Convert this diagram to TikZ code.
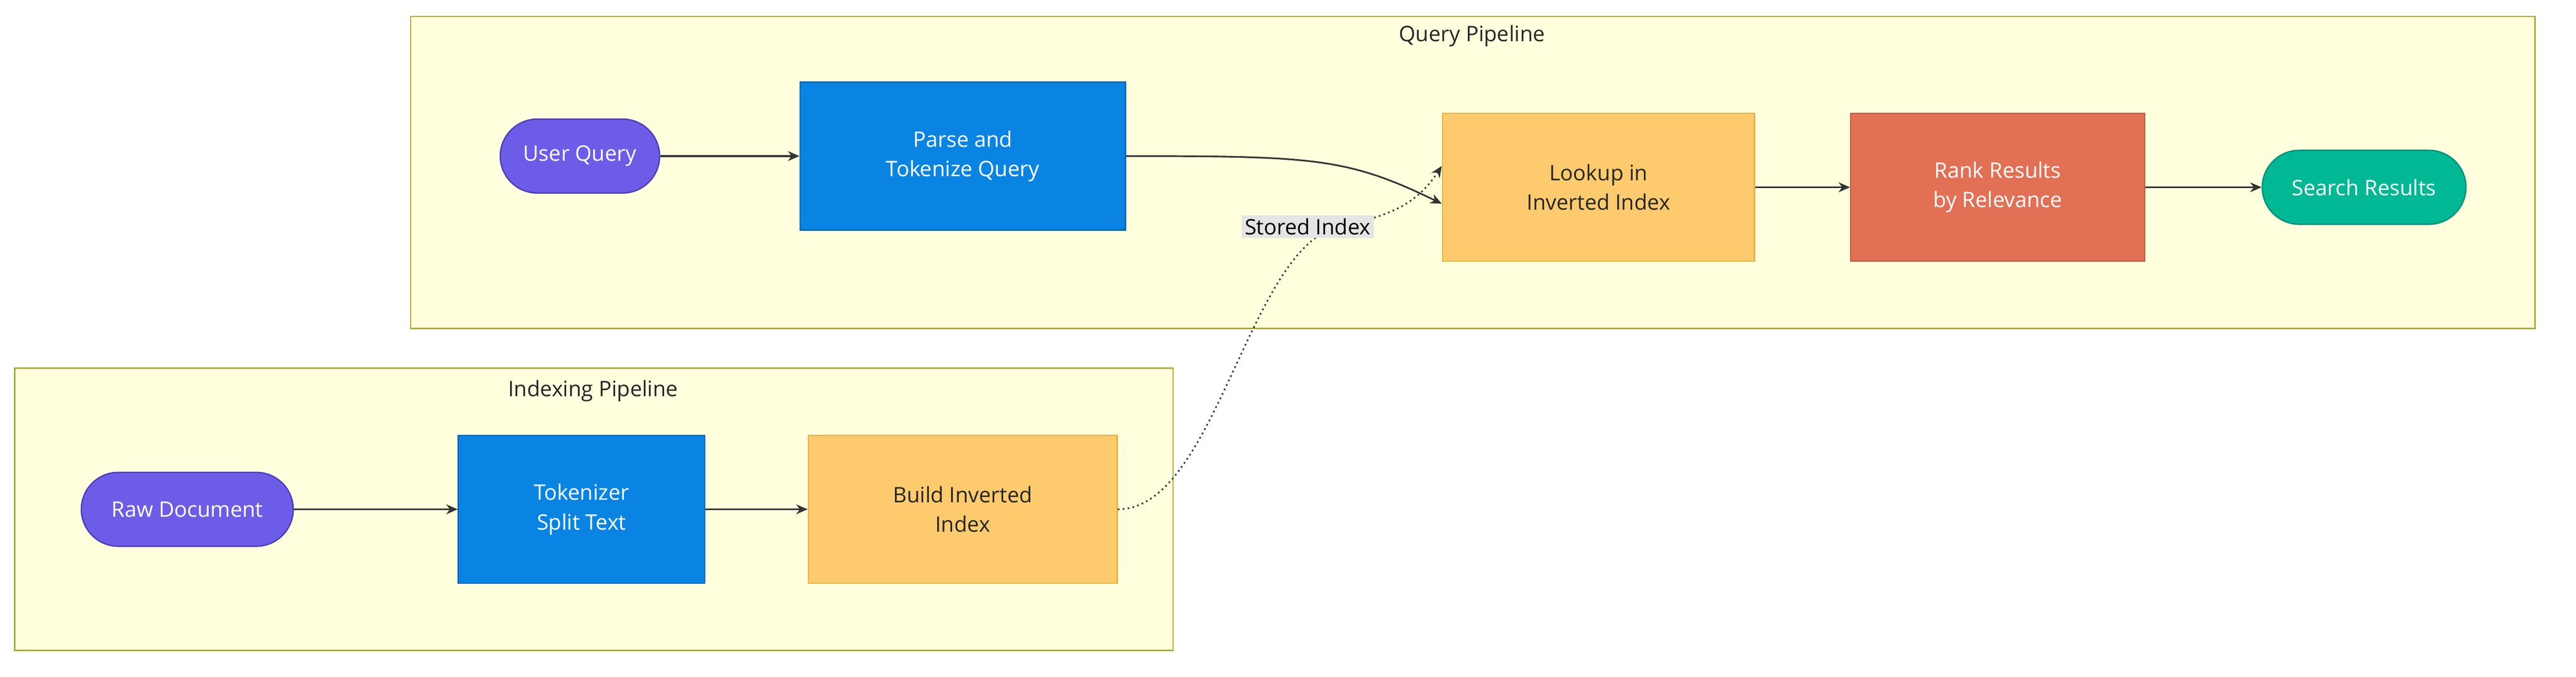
\documentclass[tikz,border=0pt]{standalone}
\usepackage{fontspec}
\setmainfont{Open Sans}
\usetikzlibrary{arrows.meta,shapes.misc}
\definecolor{grp}{HTML}{FFFFDE}
\definecolor{grpb}{HTML}{AAAA33}
\definecolor{purp}{HTML}{6C5CE7}
\definecolor{purpb}{HTML}{4B3BB8}
\definecolor{blu}{HTML}{0984E3}
\definecolor{blub}{HTML}{0768B5}
\definecolor{org}{HTML}{FDCB6E}
\definecolor{orgb}{HTML}{E8B040}
\definecolor{rd}{HTML}{E17055}
\definecolor{rdb}{HTML}{C0553C}
\definecolor{grn}{HTML}{00B894}
\definecolor{grnb}{HTML}{00907A}
\begin{document}
\begin{tikzpicture}[x=1pt,y=-1pt,
  every node/.style={font=\fontsize{13}{18}\selectfont},
  grpbox/.style={draw=grpb,fill=grp,line width=0.8pt},
  title/.style={text=black!85},
  pill/.style={rounded rectangle,draw=purpb,fill=purp,text=white,line width=0.8pt,minimum height=45pt,inner xsep=12pt},
  box/.style={draw,line width=0.8pt,align=center,minimum height=90pt},
  bl/.style={box,fill=blu,draw=blub,text=white},
  og/.style={box,fill=org,draw=orgb,text=black!85},
  arr/.style={draw=black!80,line width=1pt,-{Stealth[length=7pt,width=6pt]}}]
\useasboundingbox (0,0) rectangle (1568,412);
\fill[white] (0,0) rectangle (1568,412);
\draw[grpbox] (250,10) rectangle (1543,200);
\node[title] (tq) at (896,22) {Query Pipeline};
\draw[grpbox] (9,224) rectangle (714,396);
\node[title] (ti) at (361,238) {Indexing Pipeline};

\node[pill,minimum width=121pt] (uq) at (353,95) {User Query};
\node[bl,minimum width=198pt] (pq) at (586,95) {Parse and\\Tokenize Query};
\node[og,minimum width=190pt] (lk) at (973,114) {Lookup in\\Inverted Index};
\node[box,fill=rd,draw=rdb,text=white,minimum width=179pt] (rk) at (1216,114) {Rank Results\\by Relevance};
\node[pill,fill=grn,draw=grnb,minimum width=148pt] (sr) at (1439,114) {Search Results};
\node[pill,minimum width=153pt] (rd) at (114,310) {Raw Document};
\node[bl,minimum width=150pt] (tk) at (354,310) {Tokenizer\\Split Text};
\node[og,minimum width=188pt] (bi) at (586,310) {Build Inverted\\Index};

\draw[arr] (uq.east) -- (pq.west);
\draw[arr] (pq.east) .. controls (800,95) and (820,96) .. ([yshift=-10pt]lk.west);
\draw[arr] (lk.east) -- (rk.west);
\draw[arr] (rk.east) -- (sr.west);
\draw[arr] (rd.east) -- (tk.west);
\draw[arr] (tk.east) -- (bi.west);
\draw[arr,dotted] (bi.east) .. controls (740,310) and (760,150) .. (815,138) .. controls (840,132) and (860,128) .. ([yshift=13pt]lk.west);
\node[fill=black!10,inner sep=2pt] (si) at (796,138) {Stored Index};
\end{tikzpicture}
\end{document}
